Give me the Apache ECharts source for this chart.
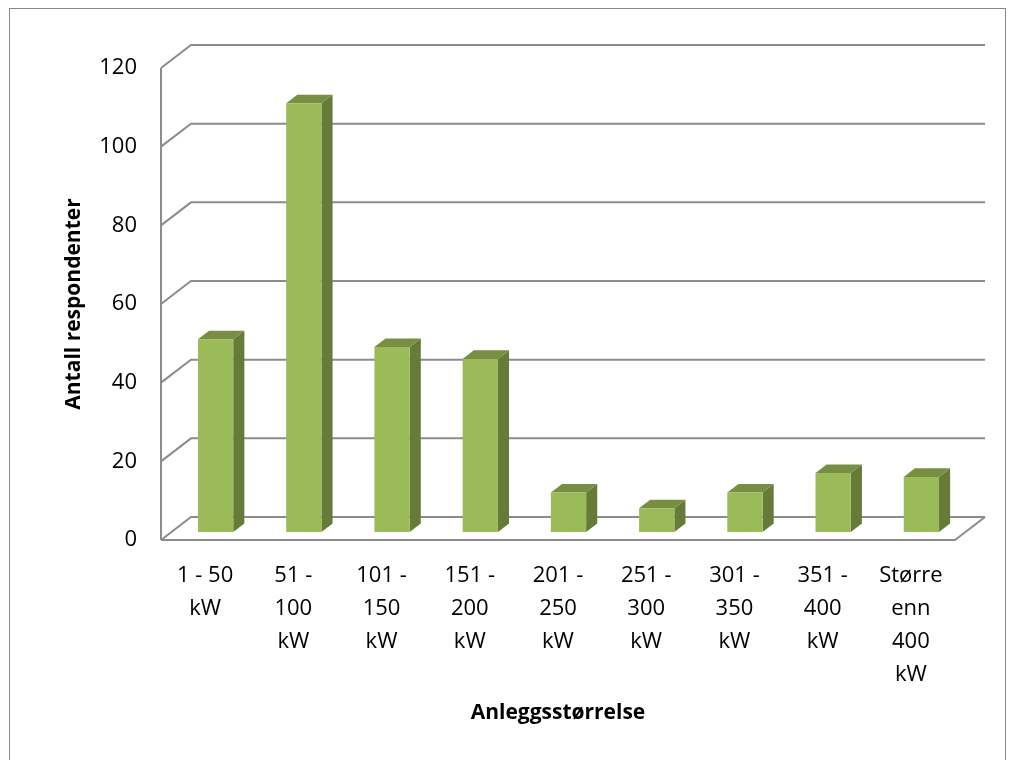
<!DOCTYPE html>
<html lang="no">
<head>
    <meta charset="UTF-8">
    <title>Anleggsstørrelse</title>
    <script src="https://cdn.jsdelivr.net/npm/echarts@6/dist/echarts.min.js"></script>
    <style>
        body{ margin:0; background:#fff; }
        #main{ width:1018px; height:760px; }
        #frame{ position:absolute; left:9px; top:8px; width:997px; height:800px; border:1px solid #888; box-sizing:border-box; pointer-events:none; }
    </style>
</head>
<body>
    <div id="main"></div>
    <div id="frame"></div>
    <script>
        // data
        var categories = ['1 - 50\nkW', '51 -\n100\nkW', '101 -\n150\nkW', '151 -\n200\nkW', '201 -\n250\nkW',
            '251 -\n300\nkW', '301 -\n350\nkW', '351 -\n400\nkW', 'Større\nenn\n400\nkW'];
        var counts = [49, 109, 47, 44, 10, 6, 10, 15, 14];
        var yTicks = [0, 20, 40, 60, 80, 100, 120];

        // 3d look: depth of the floor/wall and where the bars sit in it
        var DX = 30, DY = -23;
        var F0 = 0.35, F1 = 0.72;
        var GRID_COLOR = '#8c8c8c';

        var chart = echarts.init(document.getElementById('main'));

        function renderGrid(params, api) {
            var cs = params.coordSys;
            var y = api.coord([0, api.value(1)])[1];
            var x0 = cs.x, x1 = cs.x + cs.width;
            var children = [{
                type: 'polyline',
                shape: { points: [[x0, y], [x0 + DX, y + DY], [x1 + DX, y + DY]] },
                style: { stroke: GRID_COLOR, lineWidth: 2, fill: null }
            }];
            if (api.value(1) === 0) {
                children.push({
                    type: 'polyline',
                    shape: { points: [[x0, y], [x1, y], [x1 + DX, y + DY]] },
                    style: { stroke: GRID_COLOR, lineWidth: 2, fill: null }
                });
                children.push({
                    type: 'line',
                    shape: { x1: x0, y1: y, x2: x0, y2: cs.y },
                    style: { stroke: GRID_COLOR, lineWidth: 2 }
                });
            }
            return { type: 'group', children: children, silent: true };
        }

        function renderBar(params, api) {
            var base = api.coord([api.value(0), 0]);
            var top = api.coord([api.value(0), api.value(1)]);
            var bw = api.size([1, 0])[0] * 0.4;
            var fx = base[0] - bw / 2 + DX * F0;
            var fyB = base[1] + DY * F0;
            var fyT = top[1] + DY * F0;
            var sx = DX * (F1 - F0), sy = DY * (F1 - F0);
            return {
                type: 'group',
                children: [{
                    type: 'polygon',
                    shape: { points: [[fx + bw, fyT], [fx + bw + sx, fyT + sy], [fx + bw + sx, fyB + sy], [fx + bw, fyB]] },
                    style: { fill: '#667b38' }
                }, {
                    type: 'polygon',
                    shape: { points: [[fx, fyT], [fx + sx, fyT + sy], [fx + bw + sx, fyT + sy], [fx + bw, fyT]] },
                    style: { fill: '#788f43' }
                }, {
                    type: 'rect',
                    shape: { x: fx, y: fyT, width: bw, height: fyB - fyT },
                    style: { fill: '#9bbb59' }
                }]
            };
        }

        var option = {
            animation: false,
            textStyle: { fontFamily: 'Open Sans' },
            grid: { left: 161, right: 63, top: 68, bottom: 220 },
            xAxis: {
                type: 'category',
                data: categories,
                axisLine: { show: false },
                axisTick: { show: false },
                axisLabel: { color: '#000', fontSize: 22, lineHeight: 33, margin: 19, interval: 0 },
                name: 'Anleggsstørrelse',
                nameLocation: 'middle',
                nameGap: 163,
                nameTextStyle: { color: '#000', fontSize: 21, fontWeight: 'bold' }
            },
            yAxis: {
                type: 'value',
                min: 0, max: 120, interval: 20,
                axisLine: { show: false },
                axisTick: { show: false },
                splitLine: { show: false },
                axisLabel: { color: '#000', fontSize: 22, margin: 24 },
                name: 'Antall respondenter',
                nameLocation: 'middle',
                nameGap: 76,
                nameTextStyle: { color: '#000', fontSize: 21, fontWeight: 'bold' }
            },
            series: [{
                type: 'custom',
                renderItem: renderGrid,
                data: yTicks.map(function (v) { return [0, v]; }),
                z: 1
            }, {
                type: 'custom',
                renderItem: renderBar,
                data: counts.map(function (v, i) { return [i, v]; }),
                z: 2
            }]
        };

        chart.setOption(option);
    </script>
</body>
</html>
